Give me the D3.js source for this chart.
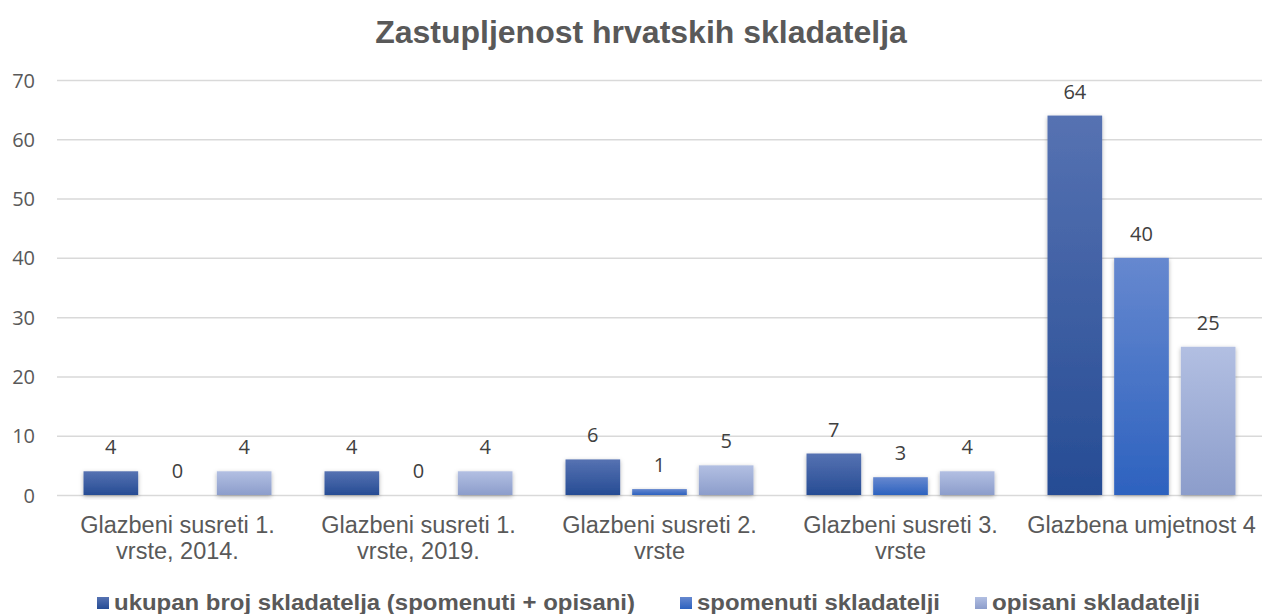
<!DOCTYPE html>
<html><head><meta charset="utf-8">
<script src="https://cdn.jsdelivr.net/npm/d3@7"></script>
<style>body{margin:0;background:#fff}svg{display:block}</style>
</head><body>
<svg id="c" width="1262" height="614"></svg>
<script>
const categories = [["Glazbeni susreti 1.","vrste, 2014."],["Glazbeni susreti 1.","vrste, 2019."],["Glazbeni susreti 2.","vrste"],["Glazbeni susreti 3.","vrste"],["Glazbena umjetnost 4"]];
const seriesNames = ["ukupan broj skladatelja (spomenuti + opisani)","spomenuti skladatelji","opisani skladatelji"];
const ukupan = [4,4,6,7,64];
const spomenuti = [0,0,1,3,40];
const opisani = [4,4,5,4,25];
const yTicks = [0,10,20,30,40,50,60,70];

const series = [ukupan, spomenuti, opisani];
const grads = [["#5672b2","#264c94"],["#6688cf","#2d62bf"],["#b2bfe2","#8c9dcb"]];

const svg = d3.select("#c");
const defs = svg.append("defs");
grads.forEach((g,i)=>{
  const lg = defs.append("linearGradient").attr("id","g"+i).attr("x1",0).attr("y1",0).attr("x2",0).attr("y2",1);
  lg.append("stop").attr("offset","0%").attr("stop-color",g[0]);
  lg.append("stop").attr("offset","100%").attr("stop-color",g[1]);
});
const f = defs.append("filter").attr("id","sh").attr("x","-20%").attr("y","-20%").attr("width","140%").attr("height","140%");
f.append("feDropShadow").attr("dx",0).attr("dy",1.5).attr("stdDeviation",2).attr("flood-color","#000").attr("flood-opacity",0.3);

const x0 = d3.scaleBand().domain(d3.range(categories.length)).range([57,1262]).paddingInner(0.22).paddingOuter(0.11);
const x1 = d3.scaleBand().domain([0,1,2]).range([0,x0.bandwidth()]).paddingInner(0.18);
const y = d3.scaleLinear().domain([0,70]).range([495,80]);

// gridlines
svg.append("g").selectAll("line").data(yTicks).join("line")
  .attr("x1",57).attr("x2",1262).attr("y1",d=>y(d)+0.5).attr("y2",d=>y(d)+0.5)
  .attr("stroke","#d9d9d9").attr("stroke-width",1.5);

// y axis labels
const yAxis = d3.axisLeft(y).tickValues(yTicks).tickSize(0).tickPadding(0);
const ya = svg.append("g").attr("transform","translate(35,0)").call(yAxis);
ya.select(".domain").remove();
ya.selectAll("text").attr("fill","#595959").style("font-family","'Open Sans', sans-serif").style("font-size","20px").attr("dy","0.35em");

// bars
const g = svg.append("g");
series.forEach((vals,si)=>{
  g.append("g").selectAll("rect").data(vals.map((v,ci)=>({v,ci}))).join("rect")
    .filter(d=>d.v>0)
    .attr("x",d=>x0(d.ci)+x1(si)).attr("width",x1.bandwidth())
    .attr("y",d=>y(d.v)).attr("height",d=>y(0)-y(d.v))
    .attr("fill","url(#g"+si+")").attr("filter","url(#sh)");
  g.append("g").selectAll("text").data(vals.map((v,ci)=>({v,ci}))).join("text")
    .attr("x",d=>x0(d.ci)+x1(si)+x1.bandwidth()/2).attr("y",d=>y(d.v)-17)
    .attr("text-anchor","middle").attr("fill","#404040")
    .style("font-family","'Open Sans', sans-serif").style("font-size","20px")
    .text(d=>d.v);
});

// category labels
const cg = svg.append("g");
categories.forEach((lines,ci)=>{
  const t = cg.append("text").attr("text-anchor","middle").attr("fill","#595959")
    .style("font-family","Liberation Sans, Arial, sans-serif").style("font-size","23.5px");
  lines.forEach((l,li)=>{
    t.append("tspan").attr("x",x0(ci)+x0.bandwidth()/2).attr("y",533+li*26).text(l);
  });
});

// title
svg.append("text").attr("x",641).attr("y",43).attr("text-anchor","middle").attr("fill","#595959")
  .style("font-family","Liberation Sans, Arial, sans-serif").style("font-size","32px").style("font-weight","bold")
  .text("Zastupljenost hrvatskih skladatelja");

// legend
const legX = [97,680,975];
const legW = [521,243,208];
seriesNames.forEach((n,i)=>{
  svg.append("rect").attr("x",legX[i]).attr("y",597).attr("width",12).attr("height",12).attr("fill","url(#g"+i+")");
  svg.append("text").attr("x",legX[i]+17).attr("y",610).attr("fill","#595959")
    .style("font-family","Liberation Sans, Arial, sans-serif").style("font-size","22px").style("font-weight","bold")
    .attr("textLength",legW[i]).attr("lengthAdjust","spacingAndGlyphs")
    .text(n);
});
</script>
</body></html>
